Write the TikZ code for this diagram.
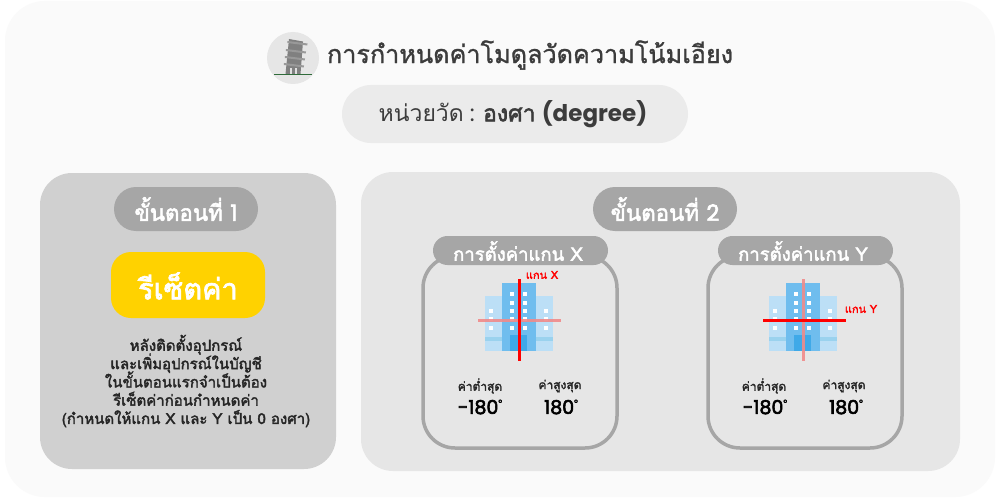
\documentclass[tikz,border=0pt]{standalone}
\usepackage{fontspec}
\setmainfont{Poppins}
\newfontfamily\thaifont[Script=Thai]{Loma}
\newfontfamily\thaim[Script=Thai,FakeBold=1.2]{Loma}
\newfontfamily\thaib[Script=Thai,FakeBold=2.4]{Loma}
\newfontfamily\latb[FakeBold=3]{Poppins}
\newcommand{\tf}{\thaifont}
\newcommand{\tb}{\thaib}
\newcommand{\tightls}{\lineskiplimit-20pt\relax}
\newcommand{\dg}{\raisebox{0.42em}{\fontsize{9}{9}\selectfont\latb\char"00B0}}
\definecolor{outer}{HTML}{FAFAFA}
\definecolor{leftp}{HTML}{D0D0D0}
\definecolor{rightp}{HTML}{E6E6E6}
\definecolor{pillc}{HTML}{A6A6A6}
\definecolor{topp}{HTML}{EBEBEB}
\definecolor{yel}{HTML}{FFD200}
\definecolor{txt}{HTML}{3C3C3C}
\definecolor{bl}{HTML}{6FBDEE}
\definecolor{bll}{HTML}{BCDFF6}
\definecolor{blm}{HTML}{9AD2EE}
\definecolor{bld}{HTML}{3FA9E8}
\definecolor{grnd}{HTML}{2F6B3A}
\tikzset{x=1pt,y=-1pt,
 lbl/.style={inner sep=0pt,align=center,anchor=center},
 wpill/.style={lbl,text=white},
 win/.style={fill=white,draw=none},
 card/.style={draw=pillc,line width=3.5pt,rounded corners=32},
 minlbl/.style={lbl,text=black!85,font=\fontsize{12}{14}\selectfont\tb},
 valbl/.style={lbl,text=black,font=\fontsize{19}{20}\selectfont\latb},
 axlbl/.style={lbl,text=red,font=\fontsize{11}{12}\selectfont\tb},
 hdr/.style={wpill,font=\fontsize{18.5}{20}\selectfont\tb},
 stp/.style={wpill,font=\fontsize{22.3}{24}\selectfont\tb},
}
\newcommand{\bldg}[1]{%
\begin{scope}[shift={(#1,0)}]
\fill[bll] (485,296) rectangle (553,351);
\fill[blm] (485,337) rectangle (553,341);
\fill[bl] (502,283) rectangle (536,351);
\fill[bld] (510,335) rectangle (527,351);
\foreach \y in {294,303,311,319,328}{
 \fill[win] (510,\y-2) rectangle ++(4,4);
 \fill[win] (523,\y-2) rectangle ++(4,4);}
\foreach \y in {311,319,328}{
 \fill[win] (489,\y-2) rectangle ++(4,4);
 \fill[win] (544,\y-2) rectangle ++(4,4);}
\end{scope}}
\begin{document}
\begin{tikzpicture}
\useasboundingbox (0,0) rectangle (1000,500);
\fill[white] (0,0) rectangle (1000,500);
\fill[outer,rounded corners=40] (5,1) rectangle (995,497);
% icon
\node[circle,fill=rightp,minimum size=52pt,inner sep=0pt] (icon) at (293,58) {};
\begin{scope}
\fill[black!50] (285.5,74) -- (289,39) -- (303,41.5) -- (300.5,74) -- cycle;
\foreach \yy/\xx in {41/287.5,49/286,56/285,63/284}{\fill[black!40] (\xx,\yy) -- ++(20,2.5) -- ++(-.2,2) -- ++(-20,-2.5) -- cycle;}
\fill[white!75!gray] (289.5,68) rectangle (291.5,74);
\fill[white!75!gray] (294.5,68) rectangle (296.5,74);
\draw[grnd,line width=1pt] (274,74.5) -- (312,74.5);
\end{scope}
\node[lbl,text=txt,font=\fontsize{25.2}{30}\selectfont\thaim] (title) at (530,55) {การกำหนดค่าโมดูลวัดความโน้มเอียง};
\fill[topp,rounded corners=29] (342,85) rectangle (688,143);
\node[lbl,text=txt,font=\fontsize{23}{26}\selectfont] (unit) at (513,114) {{\tf หน่วยวัด} : {\tb องศา} {\bfseries(degree)}};
% left
\fill[leftp,rounded corners=32] (40,173) rectangle (336,469);
\fill[pillc,rounded corners=22] (114,187) rectangle (258,231);
\node[stp] (s1) at (186,209) {ขั้นตอนที่ {\latb 1}};
\fill[yel,rounded corners=20] (111,252) rectangle (265,318);
\node[wpill,font=\fontsize{29}{30}\selectfont\tb] (reset) at (188,286) {รีเซ็ตค่า};
\node[lbl,text=black!85,font=\fontsize{15}{18.3}\selectfont\tb\tightls] (desc) at (186,381) {หลังติดตั้งอุปกรณ์\\\tb และเพิ่มอุปกรณ์ในบัญชี\\\tb ในขั้นตอนแรกจำเป็นต้อง\\\tb รีเซ็ตค่าก่อนกำหนดค่า\\\tb (กำหนดให้แกน X และ Y เป็น 0 องศา)};
% right
\fill[rightp,rounded corners=32] (361,172) rectangle (960,471);
\fill[pillc,rounded corners=22] (593,187) rectangle (737,231);
\node[stp] (s2) at (665,209) {ขั้นตอนที่ {\latb 2}};
% X card
\draw[card] (423,256) rectangle (617,448);
\fill[pillc,rounded corners=14.5] (433,236) rectangle (608,265);
\node[hdr] (hx) at (518,251) {การตั้งค่าแกน X};
\bldg{0}
\draw[red!40!rightp,line width=3pt,opacity=.9] (478,320) -- (561,320);
\draw[red,line width=3pt] (519.5,279) -- (519.5,361);
\node[axlbl] (ax) at (542,275) {แกน X};
\node[minlbl] (minx) at (480,386) {ค่าต่ำสุด};
\node[minlbl] (maxx) at (560,386) {ค่าสูงสุด};
\node[valbl] (minxv) at (480,407) {-180\dg};
\node[valbl] (maxxv) at (561,407) {180\dg};
% Y card
\draw[card] (708,256) rectangle (902,448);
\fill[pillc,rounded corners=14.5] (718,236) rectangle (893,265);
\node[hdr] (hy) at (803,251) {การตั้งค่าแกน Y};
\bldg{284}
\draw[red!40!rightp,line width=3pt,opacity=.9] (803.5,279) -- (803.5,361);
\draw[red,line width=3pt] (763,320) -- (846,320);
\node[axlbl] (ay) at (861,309) {แกน Y};
\node[minlbl] (miny) at (764,386) {ค่าต่ำสุด};
\node[minlbl] (maxy) at (844,386) {ค่าสูงสุด};
\node[valbl] (minyv) at (765,407) {-180\dg};
\node[valbl] (maxyv) at (846,407) {180\dg};
\end{tikzpicture}
\end{document}
